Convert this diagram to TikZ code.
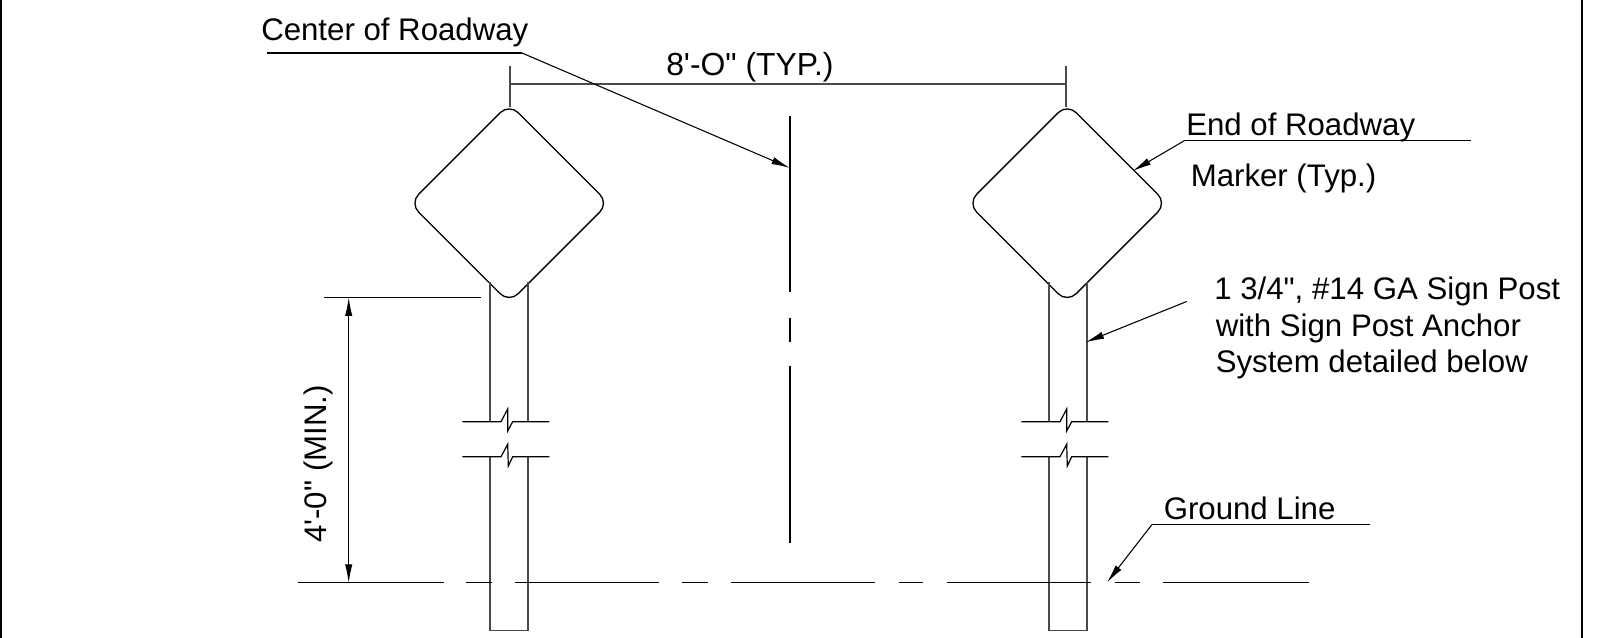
\documentclass[tikz,border=0pt]{standalone}
\usepackage{fontspec}
\newfontfamily\lblfont{Liberation Sans}
\usetikzlibrary{arrows.meta}
\definecolor{postgrey}{HTML}{4A4A4A}
\tikzset{
  every picture/.style={x=0.75pt,y=-0.75pt},
  thinline/.style={line width=0.9pt,draw=black},
  groundline/.style={line width=0.8pt,draw=black},
  dimline/.style={line width=0.8pt,draw=postgrey},
  postline/.style={line width=1.2pt,draw=postgrey},
  leader/.style={line width=0.8pt,draw=black,-{Latex[length=14pt,width=5.5pt]}},
  label/.style={anchor=base west,inner sep=0pt,font=\lblfont\fontsize{23.4pt}{28pt}\selectfont},
  marker/.style={line width=1pt,draw=black,rounded corners=9.5pt}
}
\newcommand{\signassembly}[2]{%
  \begin{scope}[shift={(#1,0)}]
    \draw[marker] (509.2,103.7) -- (608.7,203.2) -- (509.2,302.7) -- (409.7,203.2) -- cycle;
  \end{scope}
  \begin{scope}[shift={(#2,0)}]
    \draw[postline] (489.7,282) -- (489.7,422) (527.7,282) -- (527.7,422);
    \draw[postline] (489.7,457) -- (489.7,630.5) -- (527.7,630.5) -- (527.7,457);
    \draw[thinline] (462.3,421.7) -- (501,421.7) -- (507.7,409) -- (507.7,431) -- (512.7,421.7) -- (549.3,421.7);
    \draw[thinline] (462.3,456.7) -- (501,456.7) -- (507.7,444.3) -- (508.3,466) -- (512.7,456.7) -- (549.3,456.7);
  \end{scope}}
\begin{document}
\begin{tikzpicture}
\useasboundingbox (0,0) rectangle (1614,638);
\draw[line width=1.6pt] (1,0) -- (1,638) (1582,0) -- (1582,638);
% signs
\signassembly{0}{0}
\signassembly{558}{559}
% ground line
\foreach \a/\b in {297.5/443.6,466.3/492,514.7/658.8,682.4/708,730.8/874.9,898.6/923.3,947/1091,1114.7/1139.5,1162.5/1308.7}
  \draw[groundline] (\a,582.6) -- (\b,582.6);
% centre line
\foreach \a/\b in {116.5/292,318/341.7,366/542.5}
  \draw[thinline] (790,\a) -- (790,\b);
% labels
\node[label] (croad) at (261,41) {Center of Roadway};
\node[label,font=\lblfont\fontsize{23.9pt}{28pt}\selectfont] (typ) at (666,76) {8'-O" (TYP.)};
\node[label] (eroad) at (1186,136) {End of Roadway};
\node[label] (mark) at (1190.5,186.5) {Marker (Typ.)};
\node[label] (p1) at (1214,299) {1 3/4", \#14 GA Sign Post};
\node[label] (p2) at (1215.5,336) {with Sign Post Anchor};
\node[label] (p3) at (1215.5,372.5) {System detailed below};
\node[label] (gl) at (1163.5,519) {Ground Line};
\node[label,rotate=90] (mn) at (326,543) {4'-0" (MIN.)};
% width dimension
\coordinate (wl) at (510,84);
\coordinate (wr) at (1066,84);
\draw[dimline] (wl) -- (wr);
\draw[dimline] (510,66) -- (510,107);
\draw[dimline] (1066,66) -- (1066,107);
% height dimension
\coordinate (ha) at (348.7,297.3);
\coordinate (hb) at (348.7,583);
\draw[thinline] (324,297.3) -- (481,297.3);
\draw[line width=0.8pt,{Latex[length=14pt,width=5.5pt]}-{Latex[length=14pt,width=5.5pt]}] (ha) -- (hb);
% leaders
\coordinate (c1) at (267,53); \coordinate (c2) at (522,53); \coordinate (c3) at (790,168);
\draw[thinline] (c1) -- (c2);
\draw[leader] (c2) -- (c3);
\coordinate (e1) at (1471,140.7); \coordinate (e2) at (1184.3,140.7); \coordinate (e3) at (1132.7,171);
\draw[thinline] (e1) -- (e2);
\draw[leader] (e2) -- (e3);
\coordinate (p4) at (1186.7,301.5); \coordinate (p5) at (1085.5,342.3);
\draw[leader] (p4) -- (p5);
\coordinate (g1) at (1370,524.5); \coordinate (g2) at (1152,524.5); \coordinate (g3) at (1107,582.5);
\draw[thinline] (g1) -- (g2);
\draw[leader] (g2) -- (g3);
\end{tikzpicture}
\end{document}
